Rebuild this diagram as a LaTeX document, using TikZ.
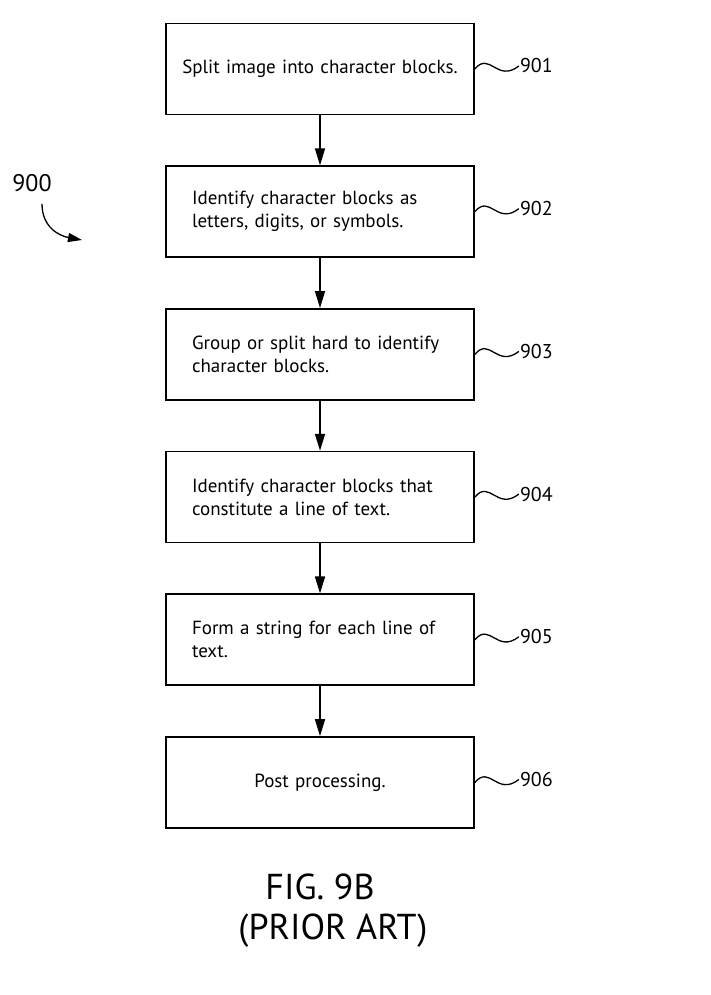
\documentclass[tikz,border=0pt]{standalone}
\usepackage{fontspec}
\setmainfont{PT Sans}
\usetikzlibrary{positioning,arrows.meta}

\begin{document}
\begin{tikzpicture}[x=1pt,y=1pt,node distance=50pt,
  every node/.style={inner sep=0pt}
]

\tikzstyle{block}=[draw,line width=1.7pt,minimum width=308pt,minimum height=91pt,
  inner xsep=26pt,text width=256pt,align=left,font=\fontsize{19}{23}\selectfont]
\tikzstyle{single}=[inner xsep=8pt,text width=292pt,align=center]
\tikzstyle{reflabel}=[inner sep=1pt,font=\fontsize{20}{24}\selectfont]
\tikzstyle{flow}=[line width=1.6pt,-{Triangle[length=17pt,width=10pt]}]
\tikzstyle{squig}=[line width=1.3pt]

\useasboundingbox (0,0) rectangle (711,-995);

\node [block,single] (b1) at (320,-69) {Split image into character blocks.};
\node [block,below=of b1] (b2) {Identify character blocks as\\letters, digits, or symbols.};
\node [block,below=of b2] (b3) {Group or split hard to identify\\character blocks.};
\node [block,below=of b3] (b4) {Identify character blocks that\\constitute a line of text.};
\node [block,below=of b4] (b5) {Form a string for each line of\\text.};
\node [block,single,below=of b5] (b6) {Post processing.};

\draw [flow] (b1) -- (b2);
\draw [flow] (b2) -- (b3);
\draw [flow] (b3) -- (b4);
\draw [flow] (b4) -- (b5);
\draw [flow] (b5) -- (b6);

% reference numerals
\node [reflabel,right=44pt of b1.east,yshift=3pt] (l1) {901};
\node [reflabel,right=44pt of b2.east,yshift=3pt] (l2) {902};
\node [reflabel,right=44pt of b3.east,yshift=3pt] (l3) {903};
\node [reflabel,right=44pt of b4.east,yshift=3pt] (l4) {904};
\node [reflabel,right=44pt of b5.east,yshift=3pt] (l5) {905};
\node [reflabel,right=44pt of b6.east,yshift=3pt] (l6) {906};

\draw [squig] (b1.east) .. controls +(15,18) and +(-22,-17) .. (l1.west);
\draw [squig] (b2.east) .. controls +(15,18) and +(-22,-17) .. (l2.west);
\draw [squig] (b3.east) .. controls +(15,18) and +(-22,-17) .. (l3.west);
\draw [squig] (b4.east) .. controls +(15,18) and +(-22,-17) .. (l4.west);
\draw [squig] (b5.east) .. controls +(15,18) and +(-22,-17) .. (l5.west);
\draw [squig] (b6.east) .. controls +(15,18) and +(-22,-17) .. (l6.west);

\node [font=\fontsize{24}{28}\selectfont] (l0) at (32,-183) {900};
\coordinate (t0) at (82,-240);
\draw [line width=1.3pt,-{Triangle[length=14pt,width=9pt]}]
  ([shift={(10,-12)}]l0.south) .. controls +(0,-24) and +(-22,4) .. (t0);

\node [font=\fontsize{36}{40}\selectfont] (fig) at (320,-887) {FIG. 9B};
\node [font=\fontsize{36}{40}\selectfont] (pa) at (333,-931) {(PRIOR ART)};
\end{tikzpicture}
\end{document}
